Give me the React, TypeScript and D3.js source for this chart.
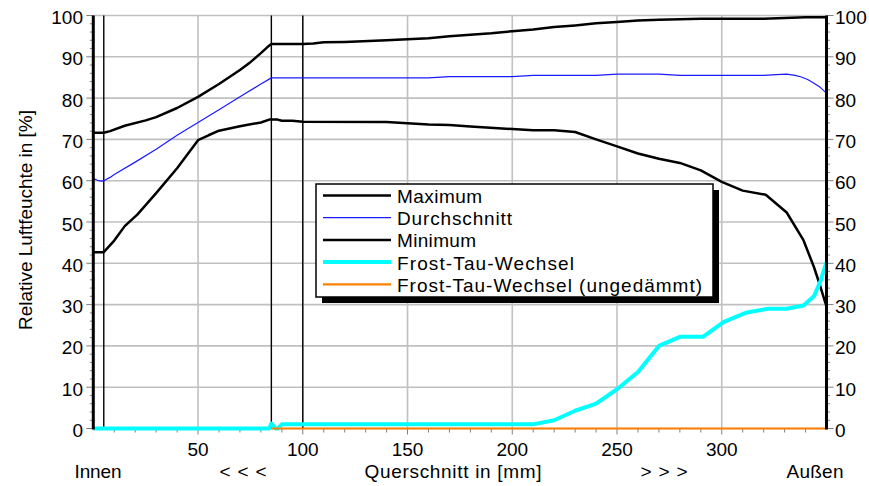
import React from "react";
import * as d3 from "d3";

type P = [number, number];

const maximumPts: P[] = [[0,71.6],[5,71.6],[8,72],[15,73.3],[25,74.6],[30,75.4],[40,77.6],[50,80.3],[60,83.4],[70,86.8],[75,88.7],[80,90.9],[83,92.3],[85,93.1],[100,93.1],[105,93.2],[110,93.5],[120,93.6],[140,94],[160,94.5],[170,95],[190,95.7],[200,96.2],[210,96.6],[220,97.2],[230,97.6],[240,98.1],[250,98.4],[260,98.8],[270,99],[290,99.2],[320,99.2],[330,99.4],[340,99.6],[350,99.6]];
const averagePts: P[] = [[0,60.5],[2,60.1],[4,59.9],[5,60],[8,60.8],[10,61.5],[20,64.5],[30,67.6],[40,71],[50,74.1],[60,77.2],[70,80.3],[80,83.4],[85,84.9],[100,84.9],[160,84.9],[170,85.2],[200,85.2],[210,85.5],[240,85.5],[250,85.8],[270,85.8],[280,85.5],[320,85.5],[326,85.7],[331,85.8],[335,85.5],[338,85.1],[341,84.5],[344,83.6],[347,82.6],[350,81.2]];
const minimumPts: P[] = [[0,42.7],[5,42.7],[10,45.5],[15,49],[21,51.8],[30,57],[40,63],[50,69.8],[55,71],[60,72.1],[70,73.2],[80,74.1],[84,74.8],[88,74.8],[90,74.5],[95,74.5],[100,74.3],[140,74.2],[160,73.6],[170,73.5],[180,73.1],[200,72.5],[210,72.2],[220,72.2],[230,71.8],[240,70],[250,68.3],[260,66.6],[270,65.3],[280,64.3],[290,62.5],[300,59.7],[310,57.6],[321,56.6],[331,52.3],[339,45.6],[344,39.1],[347,34.5],[350,29.5]];
const frostPts: P[] = [[0,0],[84,0],[85,1.2],[86,0.6],[87,0],[88,0],[90,1],[100,1],[210,1],[220,2],[230,4.3],[240,6],[250,9.5],[260,13.7],[270,20],[280,22.2],[291,22.2],[301,25.8],[312,28.1],[322,29],[331,29],[339,29.8],[344,32],[347,35.5],[350,40.2]];
const frostUninsulatedPts: P[] = [[85,0],[350,0]];

const markerLines = [5, 85, 100];
const xTicks = [50, 100, 150, 200, 250, 300];
const yTicks = [0, 10, 20, 30, 40, 50, 60, 70, 80, 90, 100];
const legendLabels = ["Maximum", "Durchschnitt", "Minimum", "Frost-Tau-Wechsel", "Frost-Tau-Wechsel (ungedämmt)"];
const legendWidths = [85, 115, 79, 177, 305];
const bottomLabels = [
  { text: "Innen", x: 98, w: 47 },
  { text: "< < <", x: 243, w: 47 },
  { text: "Querschnitt in [mm]", x: 453, w: 177 },
  { text: "> > >", x: 664, w: 47 },
  { text: "Außen", x: 815, w: 57 },
];

const FONT = "'Liberation Sans', Arial, sans-serif";

export default function App() {
  const W = 869, H = 486;
  const x0 = 93.3, x1 = 826.5, yTop = 15.5, yBot = 428.5;
  const x = d3.scaleLinear().domain([0, 350]).range([x0, x1]);
  const y = d3.scaleLinear().domain([0, 100]).range([yBot, yTop]);
  const line = d3.line<P>().x(d => x(d[0])).y(d => y(d[1])).curve(d3.curveLinear);

  const series = [
    { pts: maximumPts, color: "#000000", w: 2.5 },
    { pts: averagePts, color: "#1a1aff", w: 1.2 },
    { pts: minimumPts, color: "#000000", w: 2.5 },
    { pts: frostPts, color: "#00ffff", w: 4 },
    { pts: frostUninsulatedPts, color: "#ff8000", w: 2.2 },
  ];

  const minorY = d3.range(0, 101, 2);
  const minorX = d3.range(10, 350, 10);

  const lg = { x: 316, y: 184, w: 397, h: 113 };

  return (
    <svg width={W} height={H} style={{ position: "absolute", left: 0, top: 0, background: "#fff" }} fontFamily={FONT}>
      {yTicks.map(t => (
        <line key={"gy" + t} x1={x0} x2={x1} y1={y(t)} y2={y(t)} stroke="#c0c0c0" strokeWidth={1.6} />
      ))}
      {xTicks.map(t => (
        <line key={"gx" + t} x1={x(t)} x2={x(t)} y1={yTop} y2={yBot} stroke="#c0c0c0" strokeWidth={1.6} />
      ))}
      {minorX.map(t => (
        <line key={"mx" + t} x1={x(t)} x2={x(t)} y1={yBot} y2={yBot + (t % 50 === 0 ? 6 : 4)} stroke="#808080" strokeWidth={1} />
      ))}
      {minorY.map(t => (
        <g key={"my" + t}>
          <line x1={x0 - (t % 10 === 0 ? 7 : 3.5)} x2={x0} y1={y(t)} y2={y(t)} stroke="#808080" strokeWidth={1} />
          <line x1={x1} x2={x1 + (t % 10 === 0 ? 7 : 3.5)} y1={y(t)} y2={y(t)} stroke="#808080" strokeWidth={1} />
        </g>
      ))}
      {markerLines.map(m => (
        <line key={"m" + m} x1={x(m)} x2={x(m)} y1={yTop} y2={yBot} stroke="#000" strokeWidth={1.4} />
      ))}
      {series.map((s, i) => (
        <path key={"s" + i} d={line(s.pts) || ""} fill="none" stroke={s.color} strokeWidth={s.w} strokeLinejoin="round" />
      ))}
      <line x1={x0} x2={x0} y1={yTop} y2={yBot + 1} stroke="#000" strokeWidth={3} />
      <line x1={x1} x2={x1} y1={yTop} y2={yBot + 1} stroke="#000" strokeWidth={3} />
      {yTicks.map(t => (
        <g key={"yl" + t}>
          <text x={83} y={y(t) + 8.5} textAnchor="end" fontSize={19} fill="#000">{t}</text>
          <text x={835} y={y(t) + 8.5} textAnchor="start" fontSize={19} fill="#000">{t}</text>
        </g>
      ))}
      {xTicks.map(t => (
        <text key={"xl" + t} x={x(t)} y={456} textAnchor="middle" fontSize={19} fill="#000">{t}</text>
      ))}
      {bottomLabels.map(b => (
        <text key={b.text} x={b.x} y={478} textAnchor="middle" fontSize={19} textLength={b.w} lengthAdjust="spacing" fill="#000">{b.text}</text>
      ))}
      <text transform="translate(32,220) rotate(-90)" textAnchor="middle" fontSize={19} textLength={220} lengthAdjust="spacing" fill="#000">Relative Luftfeuchte in [%]</text>
      <rect x={lg.x + 6} y={lg.y + 6} width={lg.w} height={lg.h} fill="#000" />
      <rect x={lg.x} y={lg.y} width={lg.w} height={lg.h} fill="#fff" stroke="#000" strokeWidth={1.5} />
      {legendLabels.map((l, i) => {
        const cy = 195.5 + i * 22.2;
        const s = series[i];
        return (
          <g key={l}>
            <line x1={323} x2={391} y1={cy} y2={cy} stroke={s.color} strokeWidth={s.w} />
            <text x={397} y={cy + 7.5} fontSize={19} textLength={legendWidths[i]} lengthAdjust="spacing" fill="#000">{l}</text>
          </g>
        );
      })}
    </svg>
  );
}
